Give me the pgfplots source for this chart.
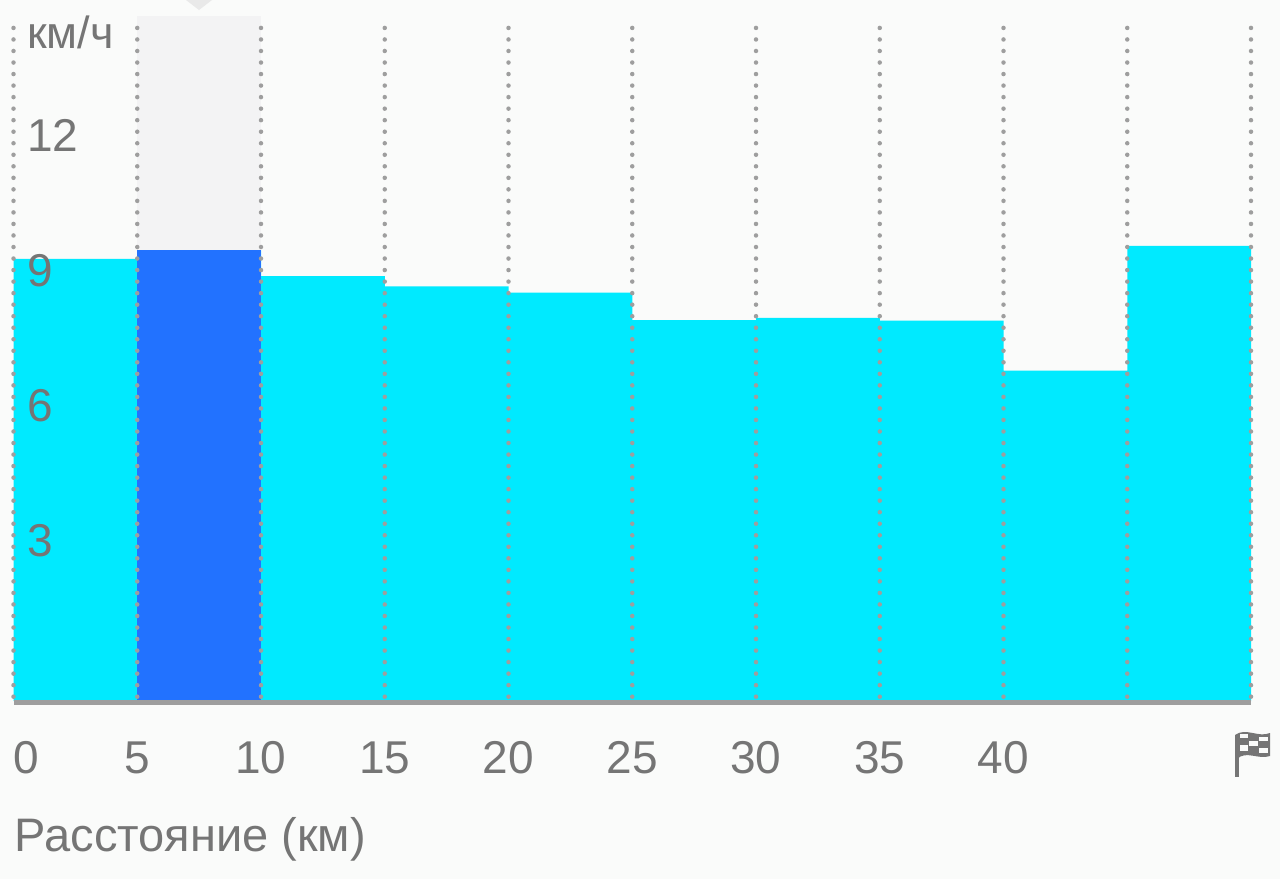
\documentclass[border=0pt]{standalone}
\usepackage{pgfplots}
\pgfplotsset{compat=1.18}
\usepackage{fontspec}
\setmainfont{Liberation Sans}
\definecolor{bgc}{HTML}{FAFBFA}
\definecolor{txt}{HTML}{757575}
\definecolor{cyanbar}{HTML}{00EAFF}
\definecolor{bluebar}{HTML}{2272FF}
\definecolor{grd}{HTML}{9E9E9E}
\definecolor{band}{HTML}{F3F3F4}
\begin{document}
\begin{tikzpicture}[x=1pt,y=1pt]
\useasboundingbox (0,0) rectangle (1280,-879);
\fill[bgc] (0,0) rectangle (1280,-879);
\fill[bgc!93!black] (186,0) -- (199,-10) -- (212,0) -- cycle;
\begin{axis}[
  at={(13.5pt,-701pt)}, anchor=south west,
  scale only axis, width=1237.5pt, height=676pt,
  xmin=0, xmax=50, ymin=0, ymax=15,
  clip=false, axis on top,
  axis x line=bottom, axis y line=left,
  axis line style={-},
  x axis line style={draw=grd, line width=5pt, yshift=-1pt},
  y axis line style={draw=none},
  major tick length=0pt,
  tick style={draw=none},
  xtick={0,5,10,15,20,25,30,35,40,45,50},
  xticklabels={\rlap{0},5,10,15,20,25,30,35,40,{},{}},
  ytick={3,6,9,12},
  yticklabels={3,6,9,12},
  xmajorgrids,
  grid style={draw=grd, line width=4.5pt, line cap=round, dash pattern=on 0pt off 11.53pt, dash phase=7.2pt},
  xticklabel style={font=\fontsize{46}{50}\selectfont, text=txt, anchor=base, yshift=-72pt, inner sep=0pt},
  yticklabel style={font=\fontsize{46}{50}\selectfont, text=txt, anchor=base west, xshift=13.5pt, yshift=9pt, inner sep=0pt},
  xlabel={Расстояние (км)},
  ylabel={км/ч},
  every axis x label/.style={at={(axis description cs:0,0)}, anchor=base west, xshift=1pt, yshift=-150pt, inner sep=0pt, font=\fontsize{47}{50}\selectfont, text=txt},
  every axis y label/.style={at={(axis description cs:0,1)}, anchor=base west, xshift=13.5pt, yshift=-23pt, inner sep=0pt, font=\fontsize{45}{48}\selectfont, text=txt},
]
\addplot[ybar interval, draw=none, fill=band] coordinates {(5,15.2) (10,15.2)};
\addplot[ybar interval, draw=none, fill=cyanbar] coordinates {(0,9.81) (5,10.0) (10,9.43) (15,9.20) (20,9.06) (25,8.45) (30,8.50) (35,8.44) (40,7.33) (45,10.10) (50,10.10)};
\addplot[ybar interval, draw=none, fill=bluebar] coordinates {(5,10.0) (10,10.0)};
\end{axis}
% finish flag
\fill[txt] (1235,-735) rectangle (1239,-777);
\fill[txt] (1235,-735) .. controls (1246,-727) and (1258,-738) .. (1270,-733) -- (1270,-756) .. controls (1258,-760) and (1246,-750) .. (1237,-759) -- cycle;
\fill[bgc] (1240,-734) rectangle (1248,-738);
\fill[bgc] (1259,-737) rectangle (1268,-741);
\fill[bgc] (1249,-741) rectangle (1258,-746);
\fill[bgc] (1240,-745) rectangle (1248,-751);
\fill[bgc] (1259,-748) rectangle (1268,-753);
\end{tikzpicture}
\end{document}
